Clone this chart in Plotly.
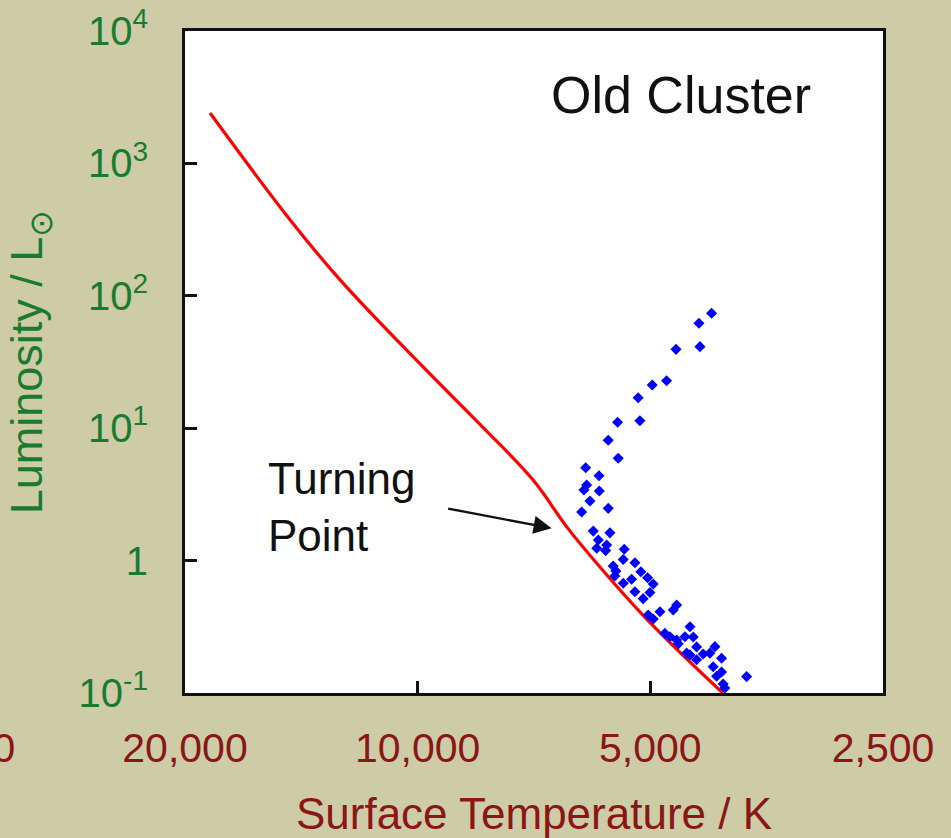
import numpy as np
import plotly.graph_objects as go

# Main-sequence line for the cluster (temperature in K, luminosity in solar units)
ms_temp = [18560, 14620, 12600, 9840, 8240, 7090, 6410, 5810, 5000, 4030]
ms_lum = [2400, 374, 132, 29.0, 10.2, 4.06, 1.79, 0.895, 0.338, 0.10]

# Observed cluster stars
star_temp = [4166, 4326, 4313, 4632, 4764, 4972, 5184, 5158, 5512, 5668,
             5502, 6062, 5826, 6044, 6093, 5821, 5985, 5668, 6135, 5926,
             5640, 5838, 5695, 5866, 5404, 5712, 5420, 5235, 5585, 5540,
             5557, 5143, 5041, 5287, 5420, 4957, 5235, 5006, 5108, 4623,
             4670, 4859, 5032, 4957, 4443, 4788, 4510, 4400, 4716, 4601,
             4356, 4125, 4487, 4272, 4044, 4146, 4044, 4104, 3753, 4025,
             4005, 4356, 4443, 4187, 4623]
star_lum = [73.8, 62.0, 41.3, 39.4, 22.8, 21.2, 17.0, 11.4, 11.1, 8.10,
            5.93, 5.03, 4.38, 3.72, 3.41, 3.36, 2.82, 2.48, 2.33, 1.67,
            1.62, 1.43, 1.31, 1.24, 1.22, 1.19, 1.02, 0.964, 0.910, 0.834,
            0.765, 0.824, 0.743, 0.722, 0.674, 0.666, 0.582, 0.574, 0.516, 0.462,
            0.423, 0.411, 0.388, 0.362, 0.317, 0.282, 0.266, 0.265, 0.266, 0.235,
            0.223, 0.224, 0.200, 0.197, 0.183, 0.158, 0.144, 0.134, 0.133, 0.117,
            0.109, 0.178, 0.194, 0.200, 0.251]

# Axis ticks
x_ticks = [20000, 10000, 5000, 2500]
x_tick_text = ["20,000", "10,000", "5,000", "2,500"]
y_ticks = [1e4, 1e3, 1e2, 1e1, 1, 1e-1]
y_tick_text = ["10<sup>4</sup>", "10<sup>3</sup>", "10<sup>2</sup>",
               "10<sup>1</sup>", "1", "10<sup>-1</sup>"]

# Point the turning-point arrow at
turn_temp = 6710
turn_lum = 1.754

FONT = "Liberation Sans, Arial, sans-serif"
GREEN = "#1b7a2f"
DARKRED = "#8a1616"
BG = "#cdcca7"

x_range = [np.log10(20000), np.log10(2500)]
y_range = [np.log10(0.1), np.log10(1e4)]

fig = go.Figure()
fig.add_trace(go.Scatter(
    x=ms_temp, y=ms_lum, mode="lines",
    line=dict(color="#ff0000", width=3.2, shape="spline", smoothing=1.1),
    hoverinfo="skip", showlegend=False,
))
fig.add_trace(go.Scatter(
    x=star_temp, y=star_lum, mode="markers",
    marker=dict(color="#0000ff", size=8.5, symbol="diamond", line=dict(width=0)),
    showlegend=False,
))

axis_common = dict(
    showgrid=False, zeroline=False,
    showline=True, linecolor="#111111", linewidth=3, mirror=True,
    ticks="inside", ticklen=12, tickwidth=3, tickcolor="#111111",
)

fig.update_xaxes(
    type="log", range=x_range,
    tickvals=x_ticks, ticktext=x_tick_text,
    tickfont=dict(family=FONT, size=41, color=DARKRED),
    ticklabelstandoff=17,
    title=dict(text="Surface Temperature / K",
               font=dict(family=FONT, size=44, color=DARKRED), standoff=40),
    **axis_common,
)
fig.update_yaxes(
    type="log", range=y_range,
    tickvals=y_ticks, ticktext=y_tick_text,
    tickfont=dict(family=FONT, size=40, color=GREEN),
    ticklabelstandoff=26,
    title=dict(text="Luminosity / L<sub>\u2299</sub>",
               font=dict(family=FONT, size=45, color=GREEN), standoff=22),
    **axis_common,
)

# partially visible tick label for 40,000 K beyond the left edge
frac_40k = (np.log10(40000) - x_range[0]) / (x_range[1] - x_range[0])

fig.update_layout(
    width=951, height=838,
    margin=dict(l=185, r=68, t=31, b=145, autoexpand=False),
    paper_bgcolor=BG, plot_bgcolor="white",
    annotations=[
        dict(text="Old Cluster", xref="paper", yref="paper", x=0.521, y=0.903,
             xanchor="left", yanchor="middle", showarrow=False,
             font=dict(family=FONT, size=52, color="#111111")),
        dict(text="Turning<br>Point", xref="paper", yref="paper", x=0.1155, y=0.281,
             xanchor="left", yanchor="middle", align="left", showarrow=False,
             font=dict(family=FONT, size=44, color="#111111")),
        dict(text="", x=np.log10(turn_temp), y=np.log10(turn_lum),
             xref="x", yref="y", showarrow=True, ax=-105, ay=-20,
             arrowhead=2, arrowsize=1.5, arrowwidth=2.4, arrowcolor="#111111"),
        dict(text="40,000", xref="paper", yref="paper", x=frac_40k, y=-0.083,
             xanchor="center", yanchor="middle", showarrow=False,
             font=dict(family=FONT, size=41, color=DARKRED)),
    ],
)

fig.write_html("out.html")
